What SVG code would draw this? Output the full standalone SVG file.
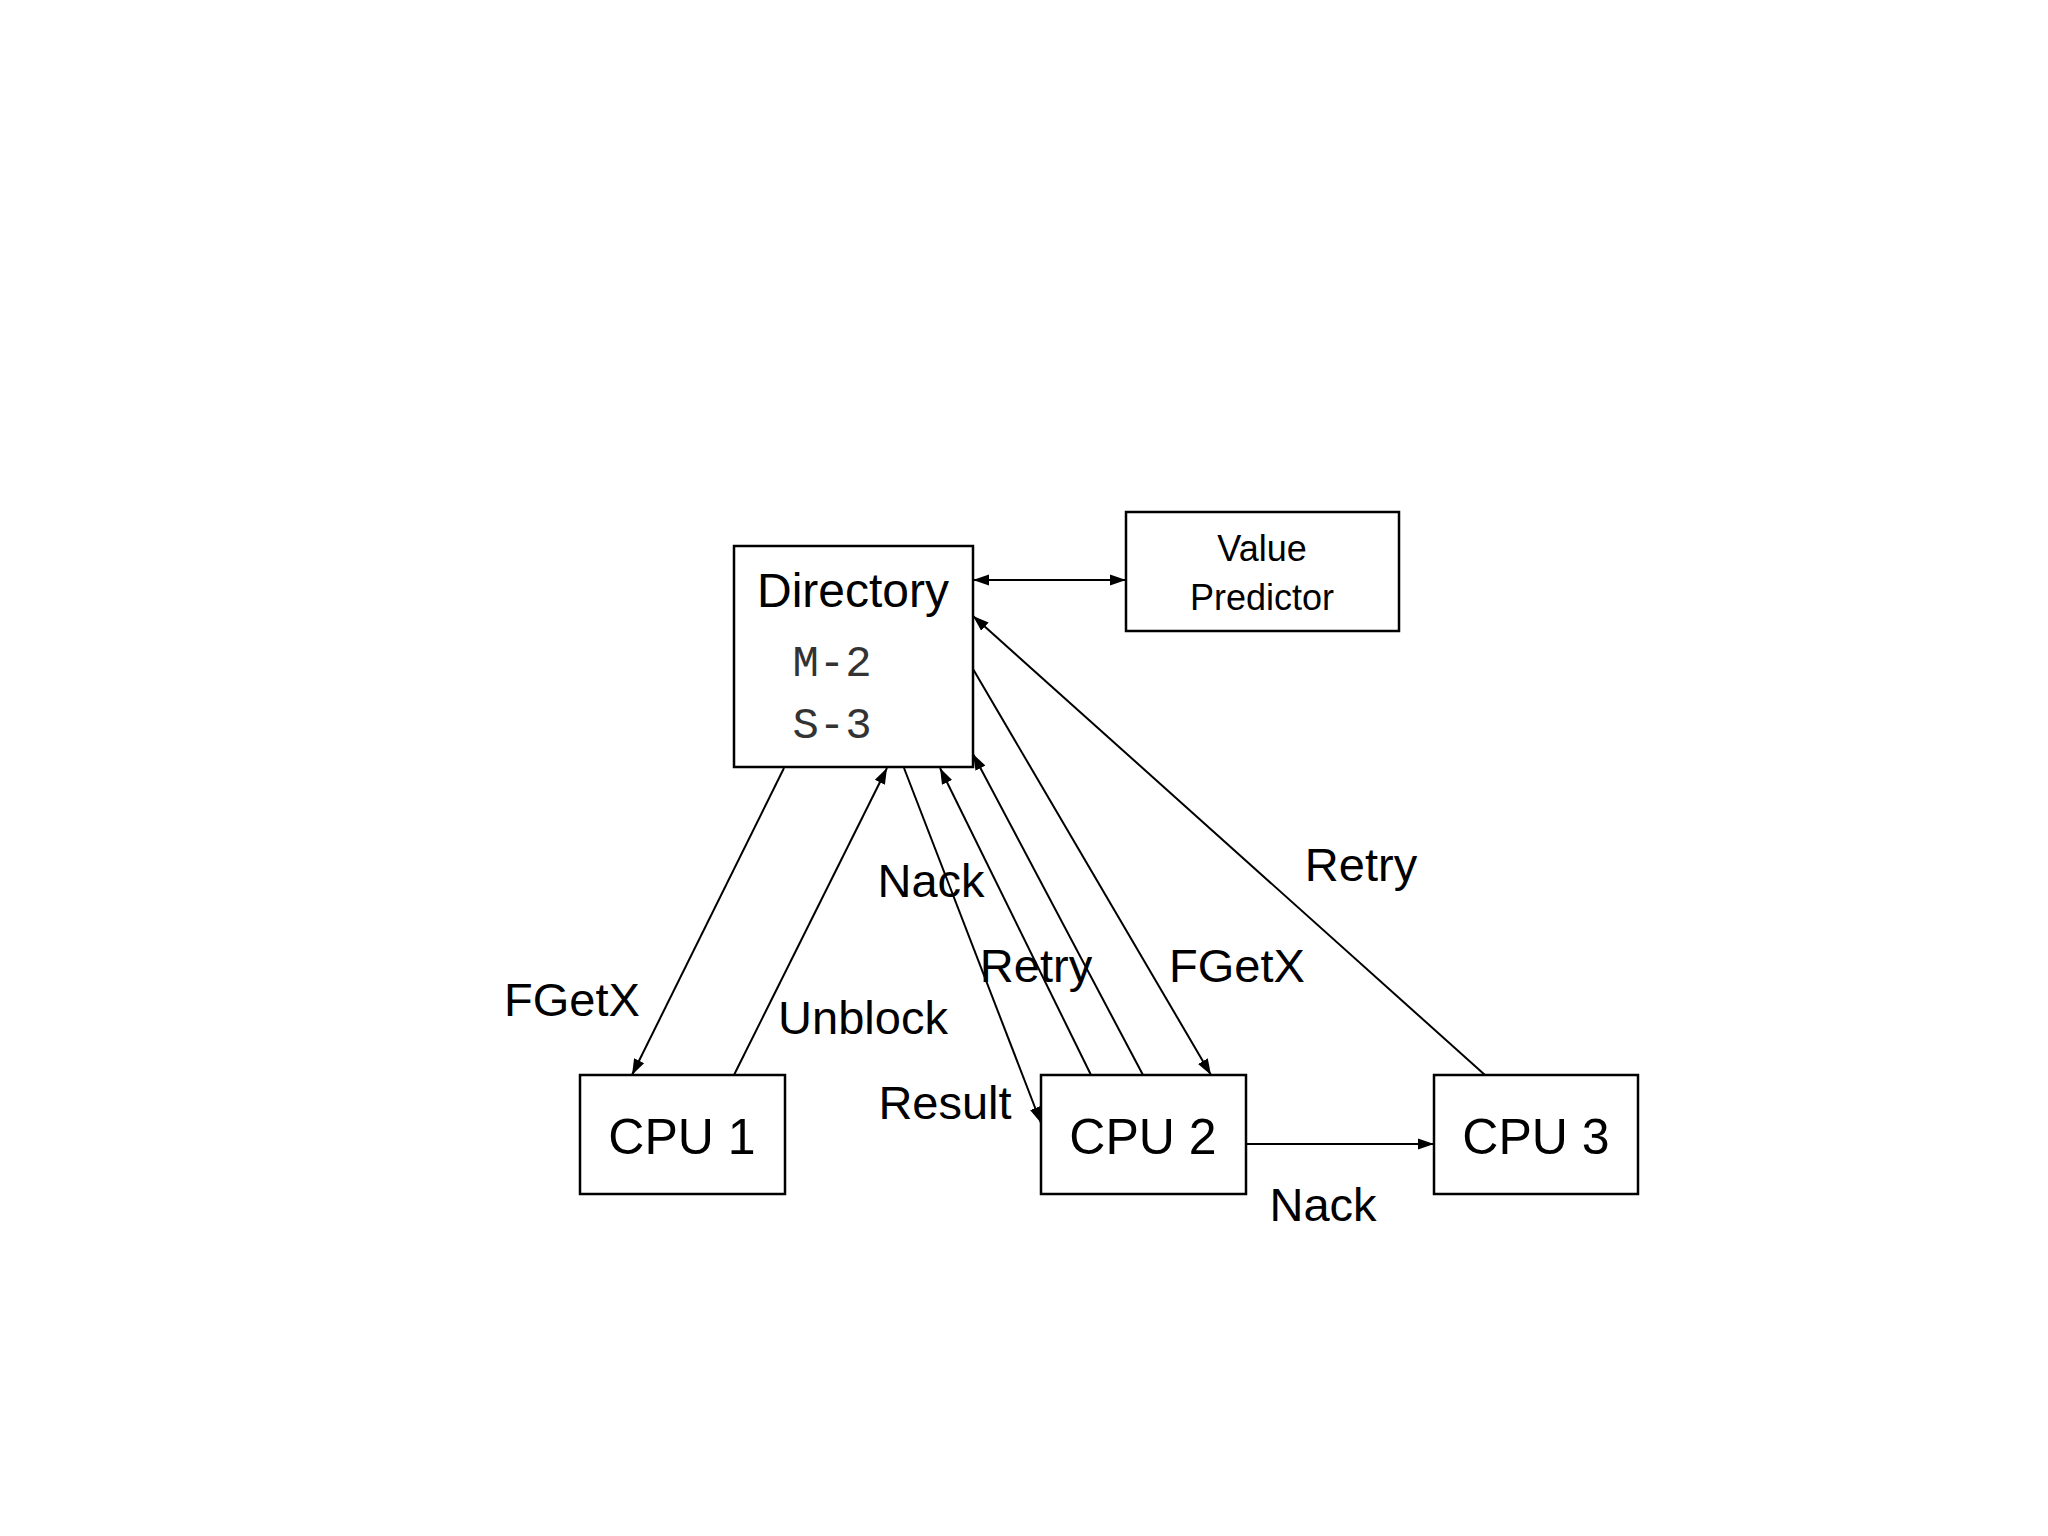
<svg xmlns="http://www.w3.org/2000/svg" width="2048" height="1536" viewBox="0 0 2048 1536">
<style>
.box{fill:#fff;stroke:#000;stroke-width:2.5}
.t{font-family:"Liberation Sans",Arial,sans-serif;fill:#000;text-anchor:middle}
.m{font-family:"Liberation Mono","Courier New",monospace;fill:#333;text-anchor:middle;font-size:44px}
.c line{stroke:#000;stroke-width:2}
</style>
<defs>
<marker id="a" viewBox="0 0 10 10" refX="10" refY="5" markerWidth="9" markerHeight="9" markerUnits="userSpaceOnUse" orient="auto-start-reverse"><path d="M0,0L10,5L0,10z" fill="#000"/></marker>
<marker id="b" viewBox="0 0 10 10" refX="10" refY="5" markerWidth="16" markerHeight="16" markerUnits="userSpaceOnUse" orient="auto-start-reverse"><path d="M0,1.5L10,5L0,8.5z" fill="#000"/></marker>
</defs>
<rect width="2048" height="1536" fill="#fff"/>
<g id="directory"><rect class="box" x="734" y="546" width="239" height="221"/>
<text class="t" x="853" y="607" font-size="48">Directory</text>
<text class="m" x="832" y="676">M-2</text>
<text class="m" x="832" y="738">S-3</text></g>
<g id="vp"><rect class="box" x="1126" y="512" width="273" height="119"/>
<text class="t" x="1262" y="561" font-size="36">Value</text>
<text class="t" x="1262" y="610" font-size="36">Predictor</text></g>
<g id="cpu1"><rect class="box" x="580" y="1075" width="205" height="119"/><text class="t" x="682" y="1154" font-size="50">CPU 1</text></g>
<g id="cpu2"><rect class="box" x="1041" y="1075" width="205" height="119"/><text class="t" x="1143" y="1154" font-size="50">CPU 2</text></g>
<g id="cpu3"><rect class="box" x="1434" y="1075" width="204" height="119"/><text class="t" x="1536" y="1154" font-size="50">CPU 3</text></g>
<g class="c">
<line x1="973" y1="580" x2="1126" y2="580" marker-start="url(#b)" marker-end="url(#b)"/>
<line x1="784" y1="768" x2="632" y2="1075" marker-end="url(#b)"/>
<line x1="734" y1="1075" x2="887" y2="768" marker-end="url(#b)"/>
<line x1="904" y1="768" x2="1041" y2="1123" marker-end="url(#b)"/>
<line x1="1091" y1="1075" x2="940" y2="768" marker-end="url(#b)"/>
<line x1="1143" y1="1075" x2="973" y2="754" marker-end="url(#b)"/>
<line x1="973" y1="669" x2="1211" y2="1075" marker-end="url(#b)"/>
<line x1="1485" y1="1075" x2="973" y2="616" marker-end="url(#b)"/>
<line x1="1246" y1="1144" x2="1434" y2="1144" marker-end="url(#b)"/>
</g>
<g id="labels" class="t" font-size="47">
<text x="572" y="1016">FGetX</text>
<text x="863" y="1034">Unblock</text>
<text x="931" y="897">Nack</text>
<text x="1036" y="982">Retry</text>
<text x="1237" y="982">FGetX</text>
<text x="1361" y="881">Retry</text>
<text x="945" y="1119">Result</text>
<text x="1323" y="1221">Nack</text>
</g>
</svg>
